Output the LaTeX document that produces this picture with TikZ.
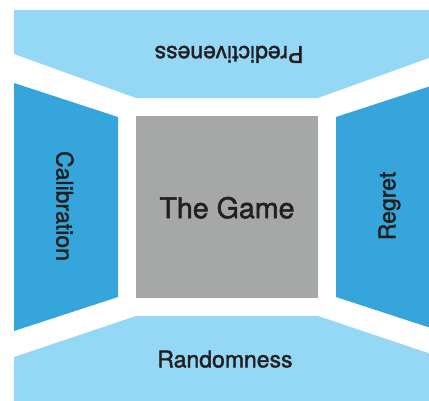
\documentclass[tikz,border=0pt]{standalone}
\usepackage{fontspec}
\newfontfamily\hv{TeX Gyre Heros}[FakeBold=1.6]
\definecolor{lightb}{HTML}{94D8F5}
\definecolor{darkb}{HTML}{35A5DB}
\definecolor{grayb}{HTML}{A5A8A7}
\definecolor{txt}{HTML}{231F20}
\tikzset{
  panel/.style={draw=none},
  lbl/.style={inner sep=0pt, text=txt, font=\hv\fontsize{23}{23}\selectfont, text depth=0pt},
  big/.style={lbl, font=\hv\fontsize{28.6}{28.6}\selectfont}
}
\begin{document}
\begin{tikzpicture}[x=1pt,y=-1pt]
\useasboundingbox (0,0) rectangle (429,400);
\clip (0,0) rectangle (429,400);
% top
\fill[lightb] (14,10) -- (440,10) -- (440,54) -- (318,98) -- (136,98) -- (14,54) -- cycle;
% bottom
\fill[lightb] (14,357) -- (136,316) -- (318,316) -- (440,357) -- (440,404) -- (14,404) -- cycle;
% left
\fill[darkb] (14,83) -- (118,117) -- (118,297) -- (14,331) -- cycle;
% right
\fill[darkb] (440,83) -- (336,117) -- (336,297) -- (440,331) -- cycle;
% center
\node[fill=grayb, minimum width=182pt, minimum height=182pt, inner sep=0pt, anchor=north west] (game) at (136,116) {};
\node[big] (gametxt) at (227,207.5) {The Game};
\node[lbl, rotate=180] (pred) at (229,54.5) {Predictiveness};
\node[lbl] (rand) at (225,359) {Randomness};
\node[lbl, rotate=-90] (cal) at (65,206) {Calibration};
\node[lbl, rotate=90] (reg) at (387,206) {Regret};
\end{tikzpicture}
\end{document}
